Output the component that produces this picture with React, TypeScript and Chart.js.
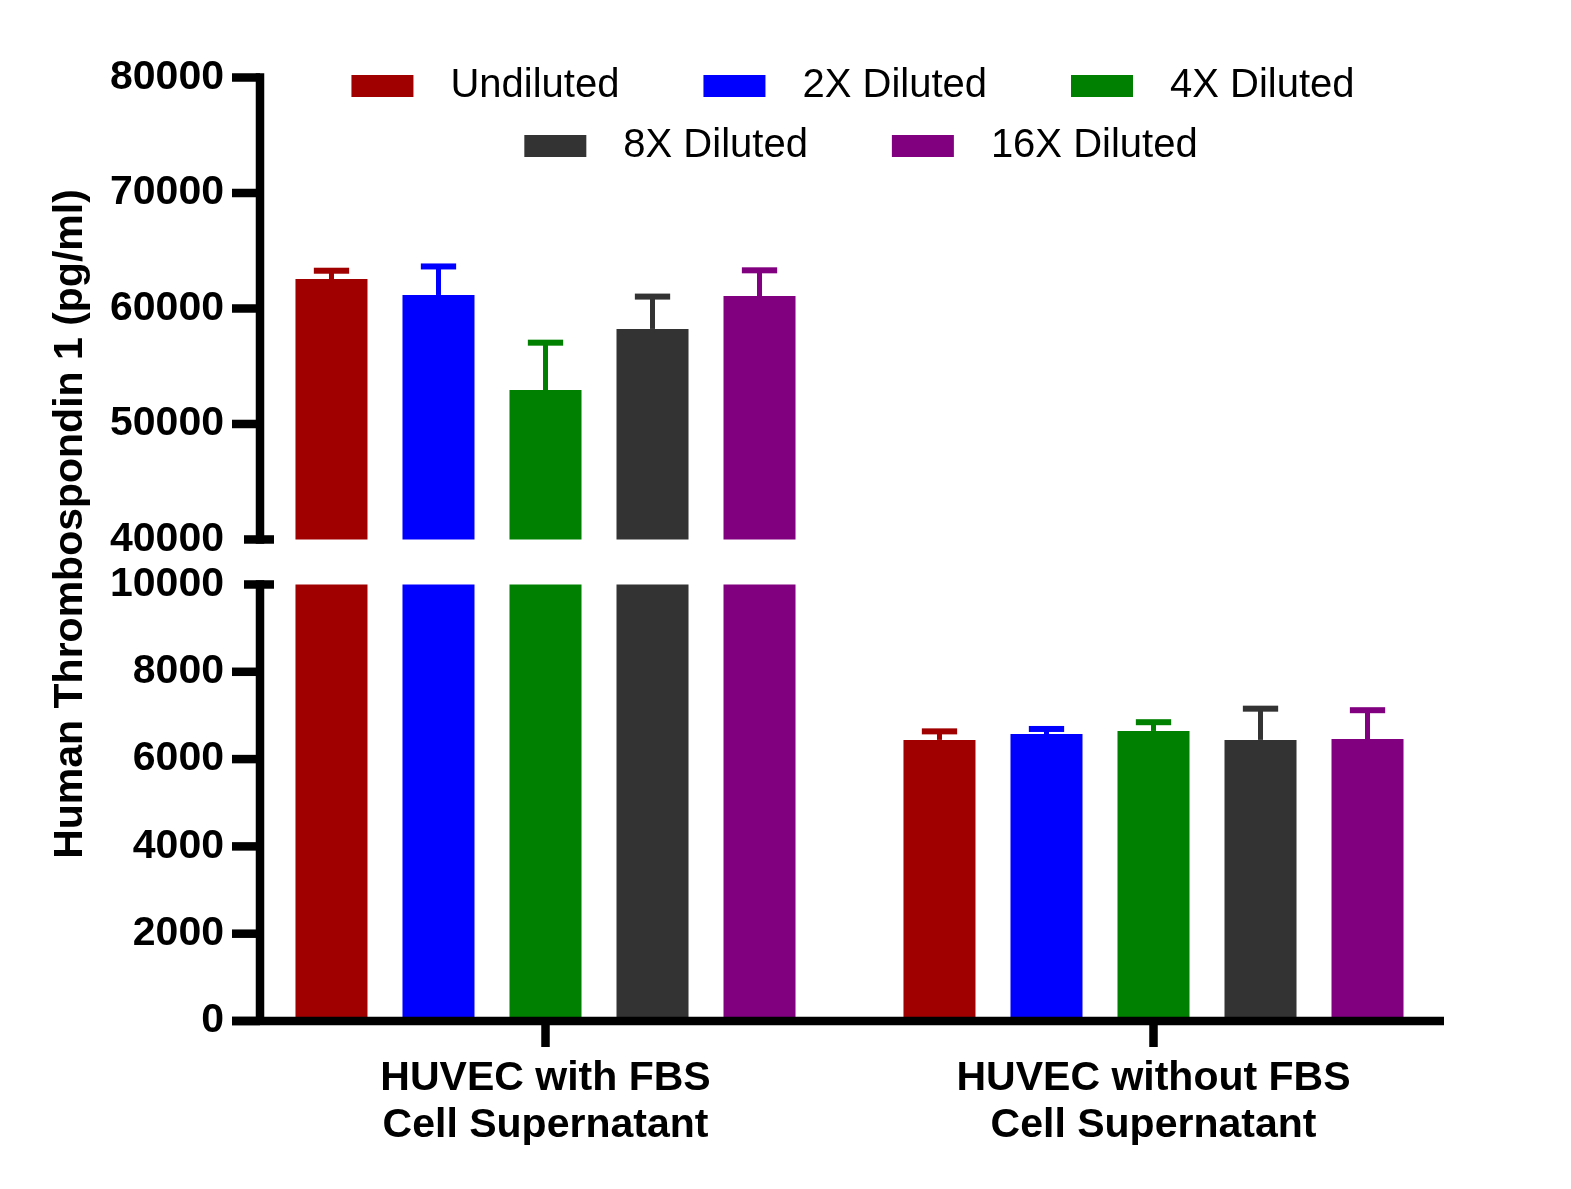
import React, { useEffect, useRef } from 'react';
import { Chart, registerables } from 'chart.js';

Chart.register(...registerables);

// ---------------- data ----------------
const CATEGORIES = [
  ['HUVEC with FBS', 'Cell Supernatant'],
  ['HUVEC without FBS', 'Cell Supernatant'],
];
const SERIES = ['Undiluted', '2X Diluted', '4X Diluted', '8X Diluted', '16X Diluted'];
const COLORS = ['#A00000', '#0000FF', '#008000', '#333333', '#800080'];

const UNDILUTED = [62550, 6440];
const UNDILUTED_ERR = [720, 195];
const DILUTED_2X = [61170, 6575];
const DILUTED_2X_ERR = [2470, 115];
const DILUTED_4X = [52940, 6645];
const DILUTED_4X_ERR = [4100, 200];
const DILUTED_8X = [58230, 6440];
const DILUTED_8X_ERR = [2800, 715];
const DILUTED_16X = [61080, 6460];
const DILUTED_16X_ERR = [2225, 660];

const MEANS = [UNDILUTED, DILUTED_2X, DILUTED_4X, DILUTED_8X, DILUTED_16X];
const ERRS = [UNDILUTED_ERR, DILUTED_2X_ERR, DILUTED_4X_ERR, DILUTED_8X_ERR, DILUTED_16X_ERR];

const UPPER_TICKS = [40000, 50000, 60000, 70000, 80000];
const LOWER_TICKS = [0, 2000, 4000, 6000, 8000, 10000];

const Y_TITLE = 'Human Thrombospondin 1 (pg/ml)';

// axis break
const LOW_MAX = 10000;
const HIGH_MIN = 40000;
const HIGH_MAX = 80000;

// ---------------- style ----------------
const FONT = "'Liberation Sans', Arial, Helvetica, sans-serif";
const W = 1571;
const H = 1189;
const AXIS_X = 260;
const LW = 8.5;
const TICK_LEFT = 232;
const LEGEND_ROWS = [[0, 1, 2], [3, 4]];

export default function App() {
  const ref = useRef<HTMLCanvasElement>(null);

  useEffect(() => {
    const canvas = ref.current;
    if (!canvas) return;

    const datasets: any[] = [];
    SERIES.forEach((name, i) => {
      const means = MEANS[i];
      datasets.push({
        label: name,
        data: means.map((v) => Math.min(v, LOW_MAX)),
        backgroundColor: COLORS[i],
        borderWidth: 0,
        yAxisID: 'yLow',
        stack: 's' + i,
      });
      datasets.push({
        label: name,
        data: means.map((v) => (v > HIGH_MIN ? [HIGH_MIN, v] : null)),
        backgroundColor: COLORS[i],
        borderWidth: 0,
        yAxisID: 'yHigh',
        stack: 's' + i,
      });
    });

    const errorBars = {
      id: 'errorBars',
      afterDatasetsDraw(chart: any) {
        const ctx = chart.ctx;
        ctx.save();
        SERIES.forEach((_, i) => {
          MEANS[i].forEach((mean, j) => {
            const high = mean > HIGH_MIN;
            const meta = chart.getDatasetMeta(high ? 2 * i + 1 : 2 * i);
            const scale = chart.scales[high ? 'yHigh' : 'yLow'];
            const el = meta.data[j];
            if (!el) return;
            const x = el.x;
            const bw = el.width;
            const yTop = scale.getPixelForValue(mean);
            const yCap = scale.getPixelForValue(mean + ERRS[i][j]);
            ctx.fillStyle = COLORS[i];
            const stemW = 5;
            const capH = 6;
            const capW = bw * 0.49;
            ctx.fillRect(x - stemW / 2, yCap, stemW, yTop - yCap);
            ctx.fillRect(x - capW / 2, yCap - capH / 2, capW, capH);
          });
        });
        ctx.restore();
      },
    };

    const axes = {
      id: 'brokenAxes',
      afterDatasetsDraw(chart: any) {
        const ctx = chart.ctx;
        const yH = chart.scales.yHigh;
        const yL = chart.scales.yLow;
        const xs = chart.scales.x;
        ctx.save();
        ctx.fillStyle = '#000';
        // upper segment
        const hTop = yH.getPixelForValue(HIGH_MAX);
        const hBot = yH.getPixelForValue(HIGH_MIN);
        ctx.fillRect(AXIS_X - LW / 2, hTop - LW / 2, LW, hBot - hTop + LW);
        UPPER_TICKS.forEach((v) => {
          const y = yH.getPixelForValue(v);
          if (v === HIGH_MIN) {
            ctx.fillRect(AXIS_X - 16, y - LW / 2, 30, LW);
          } else {
            ctx.fillRect(TICK_LEFT, y - LW / 2, AXIS_X - TICK_LEFT, LW);
          }
        });
        // lower segment
        const lTop = yL.getPixelForValue(LOW_MAX);
        const y0 = yL.getPixelForValue(0);
        ctx.fillRect(AXIS_X - LW / 2, lTop - LW / 2, LW, y0 - lTop + LW / 2);
        LOWER_TICKS.forEach((v) => {
          const y = yL.getPixelForValue(v);
          if (v === LOW_MAX) {
            ctx.fillRect(AXIS_X - 16, y - LW / 2, 30, LW);
          } else {
            ctx.fillRect(TICK_LEFT, y - LW / 2, AXIS_X - TICK_LEFT, LW);
          }
        });
        // x axis
        ctx.fillRect(TICK_LEFT, y0 - LW / 2, 1444 - TICK_LEFT, LW);
        CATEGORIES.forEach((_, i) => {
          const x = xs.getPixelForTick(i);
          ctx.fillRect(x - LW / 2, y0, LW, 26);
        });
        ctx.restore();
      },
      afterDraw(chart: any) {
        const ctx = chart.ctx;
        ctx.save();
        // y title
        ctx.fillStyle = '#000';
        ctx.font = `bold 41px ${FONT}`;
        ctx.translate(82, 524);
        ctx.rotate(-Math.PI / 2);
        ctx.textAlign = 'center';
        ctx.textBaseline = 'alphabetic';
        ctx.fillText(Y_TITLE, 0, 0);
        ctx.restore();

        // legend
        ctx.save();
        ctx.font = `40px ${FONT}`;
        ctx.textBaseline = 'middle';
        ctx.textAlign = 'left';
        const boxW = 62;
        const boxH = 22;
        const gapText = 37;
        const gapItem = 84;
        const rowY = [86, 146];
        const rowCx = [853, 861];
        LEGEND_ROWS.forEach((row, r) => {
          const widths = row.map((i) => boxW + gapText + ctx.measureText(SERIES[i]).width);
          const total = widths.reduce((a, b) => a + b, 0) + gapItem * (row.length - 1);
          let x = rowCx[r] - total / 2;
          row.forEach((i, k) => {
            ctx.fillStyle = COLORS[i];
            ctx.fillRect(x, rowY[r] - boxH / 2, boxW, boxH);
            ctx.fillStyle = '#000';
            ctx.fillText(SERIES[i], x + boxW + gapText, rowY[r]);
            x += widths[k] + gapItem;
          });
        });
        ctx.restore();
      },
    };

    const yTickFont = { family: FONT, size: 41, weight: 'bold' as const };
    const plain = (v: any) => String(v);

    const chart = new Chart(canvas, {
      type: 'bar',
      data: { labels: CATEGORIES as any, datasets },
      options: {
        animation: false,
        responsive: false,
        events: [],
        layout: { padding: { top: 77.5, right: 113.5, left: 0, bottom: 0 } },
        datasets: {
          bar: { categoryPercentage: 0.88, barPercentage: 0.673 },
        },
        plugins: {
          legend: { display: false },
          tooltip: { enabled: false },
          title: { display: false },
        },
        scales: {
          x: {
            type: 'category',
            offset: true,
            grid: { display: false, drawTicks: false },
            border: { display: false },
            ticks: {
              color: '#000',
              font: { family: FONT, size: 41, weight: 'bold', lineHeight: 1.13 },
              padding: 35,
              maxRotation: 0,
              minRotation: 0,
              autoSkip: false,
            },
            afterFit(scale: any) {
              scale.height = H - 1021;
            },
          },
          yHigh: {
            type: 'linear',
            position: 'left',
            stack: 'ys',
            stackWeight: 484.5,
            weight: 1,
            stacked: false,
            min: 38050,
            max: HIGH_MAX,
            grid: { display: false, drawTicks: false },
            border: { display: false },
            ticks: { color: '#000', font: yTickFont, padding: 17.5, callback: plain },
            afterBuildTicks(scale: any) {
              scale.ticks = UPPER_TICKS.map((v) => ({ value: v }));
            },
            afterFit(scale: any) {
              scale.width = 241.5;
            },
          },
          yLow: {
            type: 'linear',
            position: 'left',
            stack: 'ys',
            stackWeight: 459,
            weight: 0,
            stacked: false,
            min: 0,
            max: 10515,
            grid: { display: false, drawTicks: false },
            border: { display: false },
            ticks: { color: '#000', font: yTickFont, padding: 17.5, callback: plain },
            afterBuildTicks(scale: any) {
              scale.ticks = LOWER_TICKS.map((v) => ({ value: v }));
            },
            afterFit(scale: any) {
              scale.width = 241.5;
            },
          },
        },
      } as any,
      plugins: [errorBars, axes],
    });

    return () => chart.destroy();
  }, []);

  return (
    <div style={{ position: 'absolute', left: 0, top: 0, width: W, height: H, background: '#fff' }}>
      <canvas ref={ref} width={W} height={H} style={{ display: 'block', width: W, height: H }} />
    </div>
  );
}
